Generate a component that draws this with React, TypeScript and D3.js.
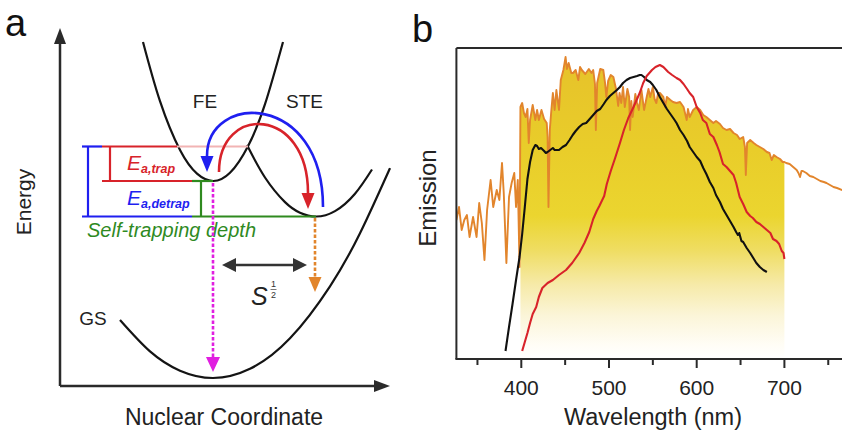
import React from 'react';
import * as d3 from 'd3';

const W = 842;
const H = 430;
const FONT = "'Liberation Sans', Arial, Helvetica, sans-serif";

// ---------- Panel a: configuration-coordinate diagram (diagram units: Q = nuclear coordinate, E = energy)
const gsCurve: [number, number][] = [[60, 66], [90, 34.6], [120, 15.3], [153, 8], [190, 17.2], [230, 47.7], [270, 99.7], [300, 152.8], [330, 217.9]];
const feCurve: [number, number][] = [[83, 344], [100, 284.8], [120, 235.9], [137, 212.3], [153, 205], [170, 213.2], [188, 239.8], [205, 281.8], [223, 344]];
const steCurve: [number, number][] = [[187, 240.9], [205, 208.5], [225, 183.9], [240, 173.3], [256, 169.5], [275, 174.9], [295, 192.3], [312, 216.5]];
const E_BARRIER = 239.5;
const E_FE = 205;
const E_STE = 169.5;

// ---------- Panel b: emission spectra (wavelength nm, emission a.u.)
const sunSpectrum: [number, number][] = [
  [326, 139], [329, 152], [332, 129], [335, 139], [338, 144], [341, 122], [345, 142], [349, 122], [352, 156], [355, 136],
  [358, 99], [361, 149], [365, 179], [368, 152], [372, 169], [375, 159], [378, 196], [380, 166], [383, 96], [386, 162],
  [389, 176], [392, 186], [394, 152], [396, 179], [398, 92], [399, 252], [401, 256], [403, 246], [405, 242], [407, 250],
  [408.5, 216], [410, 239], [413, 254], [416, 239], [418, 249], [420, 239], [423, 249], [426, 240], [429, 236], [430, 222],
  [431, 152], [432.5, 229], [434, 246], [436, 266], [438, 249], [440, 269], [443, 249], [445, 279], [448, 289], [450.5, 302],
  [452, 290], [454, 296], [457, 286], [459, 286], [462, 289], [465, 279], [467, 292], [469, 289], [473, 285], [477, 290],
  [480, 286], [482, 289], [484, 275], [485, 229], [486.5, 276], [488, 282], [490, 290], [493.5, 289], [495.5, 276], [497, 262],
  [499, 278], [502, 284], [505, 282], [508, 270], [510.5, 253], [512, 266], [514, 256], [516, 272], [518, 252], [521, 270],
  [523, 262], [524, 229], [525.5, 258], [527, 242], [530, 265], [532, 256], [534, 249], [537, 269], [540, 249], [543, 262],
  [545, 270], [547, 262], [550, 272], [552, 260], [554, 256], [556, 266], [558, 266], [562, 262], [564, 252], [566, 262],
  [570, 259], [573, 257], [577, 256], [581, 257], [585, 252], [588.6, 239], [590, 250], [592, 242], [596, 249], [600, 252],
  [604, 249], [607.5, 244], [611, 242], [615, 239], [619, 236], [622, 238], [626.5, 235], [630, 231], [634, 229], [638, 230],
  [642, 226], [646, 224], [649, 220], [653, 222], [655, 212], [656, 184], [657.5, 216], [661, 219], [665, 216], [668, 214],
  [672, 212], [676, 210], [680, 207], [683, 206], [685.5, 199], [688, 204], [691, 202], [695, 200], [698, 197], [700, 197],
  [702, 196], [706, 195], [710, 192], [714, 189], [716, 186], [717.8, 182], [719.5, 188], [721, 188], [725, 186], [729, 183],
  [733, 182], [737, 180], [741, 178], [745, 177], [748, 176], [752, 174], [756, 172], [760, 171], [766, 169],
];

const blackSpectrum: [number, number][] = [
  [382, 8], [386, 32], [390, 55], [394, 79], [398, 102], [401, 125], [404, 152], [407, 180], [410, 197], [413, 209],
  [416, 214], [418, 213], [420, 210], [422.5, 211], [426, 208], [428, 206], [430, 207], [433, 209], [436, 211], [438, 209],
  [440, 209], [443, 209], [447, 212], [451, 214], [455, 219], [458.6, 224], [462, 228], [466, 232], [470, 235], [474, 236],
  [478, 240], [482, 244], [486, 248], [490, 250], [494, 255], [497, 259], [501, 263], [505, 266], [509, 269], [512.5, 272],
  [516, 276], [520, 279], [524, 281], [528, 282], [532, 283], [535, 284], [537, 284], [540, 282], [543, 279], [547, 277],
  [550, 274], [554, 269], [558, 262], [562, 256], [566, 250], [570, 245], [574, 240], [577, 236], [581, 229], [585, 224],
  [589, 218], [592, 212], [596, 207], [600, 202], [604, 198], [607.5, 191], [611, 185], [615, 177], [619, 171], [622, 164],
  [626.5, 157], [630, 150], [634, 144], [638, 138], [642, 132], [645, 127], [647, 124], [648.5, 126], [651, 118], [653, 117],
  [657, 111], [661, 106], [664.5, 101], [668, 96], [672, 92], [676, 89], [680, 87],
];

const redSpectrum: [number, number][] = [
  [401, 8], [404, 17], [407, 26], [410, 36], [413, 45], [417, 52], [420, 62], [424, 71], [430, 76], [436, 79],
  [443, 84], [451, 89], [458, 96], [466, 106], [472, 116], [477.5, 127], [482, 140], [486, 148], [489, 153], [494.5, 163],
  [497.5, 175], [502, 188], [507, 201], [512.5, 216], [517, 229], [522, 241], [528, 252], [532, 260], [535, 266], [539, 276],
  [543, 283], [549, 289], [553, 292], [558, 294], [562, 292], [567.5, 287], [572, 284], [577, 281], [581, 279], [585, 275],
  [589, 270], [592, 266], [596, 262], [600, 252], [604, 246], [607, 239], [611, 236], [615, 225], [619, 222], [623, 214],
  [626, 207], [630, 195], [634, 192], [638, 188], [642, 184], [645, 176], [649, 162], [653, 155], [657, 147], [661, 143],
  [664, 141], [668, 137], [672, 135], [676, 132], [680, 129], [684, 126], [687, 120], [691, 118], [694, 115], [697, 108],
  [699, 106], [700, 100],
];

const majorTicks = [400, 500, 600, 700];
const minorTicks = [350, 450, 550, 650, 750];
const FILL_RANGE: [number, number] = [399, 700];

// ---------- colours
const C_AXIS = '#2a2a2a';
const C_BLUE = '#1f1ff0';
const C_RED = '#d8232a';
const C_GREEN = '#2f8a1f';
const C_MAG = '#e01fe0';
const C_ORANGE = '#e2852c';
const C_PINK = '#f2b4b4';

export default function App() {
  // panel a scales
  const xA = d3.scaleLinear().domain([0, 330]).range([60, 390]);
  const yA = d3.scaleLinear().domain([0, 358]).range([386, 28]);
  const curveA = d3.line<[number, number]>().x(d => xA(d[0])).y(d => yA(d[1])).curve(d3.curveNatural);

  // panel b scales
  const xB = d3.scaleLinear().domain([400, 700]).range([521.3, 784.4]);
  const yB = d3.scaleLinear().domain([0, 311]).range([359, 48]);
  const lineB = d3.line<[number, number]>().x(d => xB(d[0])).y(d => yB(d[1]));
  const areaB = d3.area<[number, number]>().x(d => xB(d[0])).y0(yB(0)).y1(d => yB(d[1]));
  const fillData = sunSpectrum.filter(d => d[0] >= FILL_RANGE[0] && d[0] <= FILL_RANGE[1]);

  const bLeft = xB(326);
  const bRight = xB(782);
  const bTop = yB(311);
  const bBot = yB(0);

  const tri = (tx: number, ty: number, dir: 'up' | 'down' | 'left' | 'right', len: number, hw: number) => {
    if (dir === 'down') return `M${tx},${ty} L${tx - hw},${ty - len} L${tx + hw},${ty - len} Z`;
    if (dir === 'up') return `M${tx},${ty} L${tx - hw},${ty + len} L${tx + hw},${ty + len} Z`;
    if (dir === 'left') return `M${tx},${ty} L${tx + len},${ty - hw} L${tx + len},${ty + hw} Z`;
    return `M${tx},${ty} L${tx - len},${ty - hw} L${tx - len},${ty + hw} Z`;
  };

  // arcs (diagram units)
  const blueArc = { s: [263, 179], c1: [263, 294], c2: [147, 294], e: [147, 230], tip: [147, 214] };
  const redArc = { s: [159, 214], c1: [159, 282], c2: [248, 280], e: [248, 193], tip: [248, 177] };
  const arcPath = (a: any) =>
    `M${xA(a.s[0])},${yA(a.s[1])} C${xA(a.c1[0])},${yA(a.c1[1])} ${xA(a.c2[0])},${yA(a.c2[1])} ${xA(a.e[0])},${yA(a.e[1])}`;

  const hline = (q1: number, q2: number, e: number, color: string, w = 2.2) => (
    <line x1={xA(q1)} x2={xA(q2)} y1={yA(e)} y2={yA(e)} stroke={color} strokeWidth={w} />
  );
  const vline = (q: number, e1: number, e2: number, color: string, w = 2.2) => (
    <line x1={xA(q)} x2={xA(q)} y1={yA(e1)} y2={yA(e2)} stroke={color} strokeWidth={w} />
  );

  return (
    <svg width={W} height={H} viewBox={`0 0 ${W} ${H}`} style={{ position: 'absolute', left: 0, top: 0, background: '#fff' }} fontFamily={FONT}>
      <defs>
        <linearGradient id="yel" gradientUnits="userSpaceOnUse" x1={0} y1={48} x2={0} y2={359}>
          <stop offset="0" stopColor="#e6c12a" />
          <stop offset="0.33" stopColor="#e9cd2a" />
          <stop offset="0.54" stopColor="#ebd52f" />
          <stop offset="0.65" stopColor="#efdd62" />
          <stop offset="0.76" stopColor="#f6eaa8" />
          <stop offset="0.86" stopColor="#fbf5d8" />
          <stop offset="0.955" stopColor="#fffdf6" />
          <stop offset="1" stopColor="#ffffff" />
        </linearGradient>
        <clipPath id="boxclip">
          <rect x={bLeft} y={bTop} width={bRight - bLeft} height={bBot - bTop} />
        </clipPath>
      </defs>

      {/* ================= Panel a ================= */}
      <text x={5} y={36} fontSize={38} fill="#111">a</text>

      {/* axes */}
      <line x1={xA(0)} y1={yA(0)} x2={xA(0)} y2={yA(342)} stroke={C_AXIS} strokeWidth={2.5} />
      <path d={tri(xA(0), yA(358), 'up', 16, 6)} fill={C_AXIS} />
      <line x1={xA(0)} y1={yA(0)} x2={xA(315)} y2={yA(0)} stroke={C_AXIS} strokeWidth={2.5} />
      <path d={tri(xA(330), yA(0), 'right', 16, 6)} fill={C_AXIS} />

      <text transform="rotate(-90)" x={-202} y={31} fontSize={21} textAnchor="middle" fill="#222">Energy</text>
      <text x={224} y={425} fontSize={23} textAnchor="middle" fill="#222">Nuclear Coordinate</text>

      {/* potential curves */}
      <path d={curveA(gsCurve) || ''} fill="none" stroke="#141414" strokeWidth={2.2} />
      <path d={curveA(feCurve) || ''} fill="none" stroke="#141414" strokeWidth={2.2} />
      <path d={curveA(steCurve) || ''} fill="none" stroke="#141414" strokeWidth={2.2} />

      <text x={205} y={108} fontSize={19} textAnchor="middle" fill="#222">FE</text>
      <text x={304.5} y={108} fontSize={19} textAnchor="middle" fill="#222">STE</text>
      <text x={93} y={325} fontSize={19} textAnchor="middle" fill="#222">GS</text>

      {/* level lines */}
      {hline(117, 188, E_BARRIER, C_PINK, 2)}
      {hline(42, 117, E_BARRIER, C_RED)}
      {hline(22, 42, E_BARRIER, C_BLUE)}
      {vline(28, E_BARRIER, E_STE, C_BLUE)}
      {hline(22, 132, E_STE, C_BLUE)}
      {vline(50, E_BARRIER, E_FE, C_RED)}
      {hline(42, 132, E_FE, C_RED)}
      {hline(132, 153, E_FE, C_GREEN)}
      {vline(141, E_FE, E_STE, C_GREEN)}
      {hline(132, 256, E_STE, C_GREEN)}

      <text x={127} y={170} fontSize={21} fontStyle="italic" fill={C_RED}>
        E<tspan fontSize={12.5} fontWeight={700} dy={3}>a,trap</tspan>
      </text>
      <text x={127} y={205} fontSize={21} fontStyle="italic" fill={C_BLUE}>
        E<tspan fontSize={12.5} fontWeight={700} dy={3}>a,detrap</tspan>
      </text>
      <text x={87} y={237} fontSize={20} fontStyle="italic" fill={C_GREEN}>Self-trapping depth</text>

      {/* emission arrows */}
      <line x1={xA(153)} x2={xA(153)} y1={yA(203)} y2={yA(28)} stroke={C_MAG} strokeWidth={2.6} strokeDasharray="3.5,2" />
      <path d={tri(xA(153), yA(14), 'down', 15, 7)} fill={C_MAG} />
      <line x1={xA(255)} x2={xA(255)} y1={yA(168)} y2={yA(108)} stroke={C_ORANGE} strokeWidth={2.6} strokeDasharray="3.5,2" />
      <path d={tri(xA(255), yA(94), 'down', 15, 6.5)} fill={C_ORANGE} />

      {/* S^1/2 arrow */}
      <line x1={xA(174)} x2={xA(235)} y1={yA(121)} y2={yA(121)} stroke="#333" strokeWidth={2.5} />
      <path d={tri(xA(162), yA(121), 'left', 14, 7)} fill="#333" />
      <path d={tri(xA(247), yA(121), 'right', 14, 7)} fill="#333" />
      <text x={251} y={305} fontSize={25} fontStyle="italic" fill="#222">S</text>
      <text x={273.5} y={287} fontSize={9} textAnchor="middle" fill="#333">1</text>
      <line x1={270.5} x2={276.5} y1={289.5} y2={289.5} stroke="#555" strokeWidth={0.8} />
      <text x={273.5} y={298} fontSize={9} textAnchor="middle" fill="#333">2</text>

      {/* trapping / detrapping arcs */}
      <path d={arcPath(blueArc)} fill="none" stroke={C_BLUE} strokeWidth={2.6} />
      <path d={tri(xA(blueArc.tip[0]), yA(blueArc.tip[1]), 'down', 16, 6.5)} fill={C_BLUE} />
      <path d={arcPath(redArc)} fill="none" stroke={C_RED} strokeWidth={2.6} />
      <path d={tri(xA(redArc.tip[0]), yA(redArc.tip[1]), 'down', 16, 6.5)} fill={C_RED} />

      {/* ================= Panel b ================= */}
      <text x={412} y={42} fontSize={38} fill="#111">b</text>

      <g clipPath="url(#boxclip)">
        <path d={areaB(fillData) || ''} fill="url(#yel)" />
        <path d={lineB(sunSpectrum) || ''} fill="none" stroke={C_ORANGE} strokeWidth={1.9} strokeLinejoin="round" />
        <path d={lineB(blackSpectrum) || ''} fill="none" stroke="#111" strokeWidth={2.1} strokeLinejoin="round" />
        <path d={lineB(redSpectrum) || ''} fill="none" stroke={C_RED} strokeWidth={2.1} strokeLinejoin="round" />
      </g>

      {/* frame */}
      <line x1={bLeft} x2={bLeft} y1={bTop} y2={bBot} stroke={C_AXIS} strokeWidth={2} />
      <line x1={bLeft} x2={bRight} y1={bTop} y2={bTop} stroke={C_AXIS} strokeWidth={2} />
      <line x1={bLeft - 1} x2={bRight} y1={bBot} y2={bBot} stroke={C_AXIS} strokeWidth={2} />
      {majorTicks.map(t => (
        <g key={'M' + t}>
          <line x1={xB(t)} x2={xB(t)} y1={bBot} y2={bBot + 9} stroke={C_AXIS} strokeWidth={2} />
          <text x={xB(t)} y={395} fontSize={21} textAnchor="middle" fill="#222">{t}</text>
        </g>
      ))}
      {minorTicks.map(t => (
        <line key={'m' + t} x1={xB(t)} x2={xB(t)} y1={bBot} y2={bBot + 6} stroke={C_AXIS} strokeWidth={2} />
      ))}
      <text transform="rotate(-90)" x={-198} y={436} fontSize={24} textAnchor="middle" fill="#222">Emission</text>
      <text x={653} y={425} fontSize={23.5} textAnchor="middle" fill="#222">Wavelength (nm)</text>
    </svg>
  );
}
